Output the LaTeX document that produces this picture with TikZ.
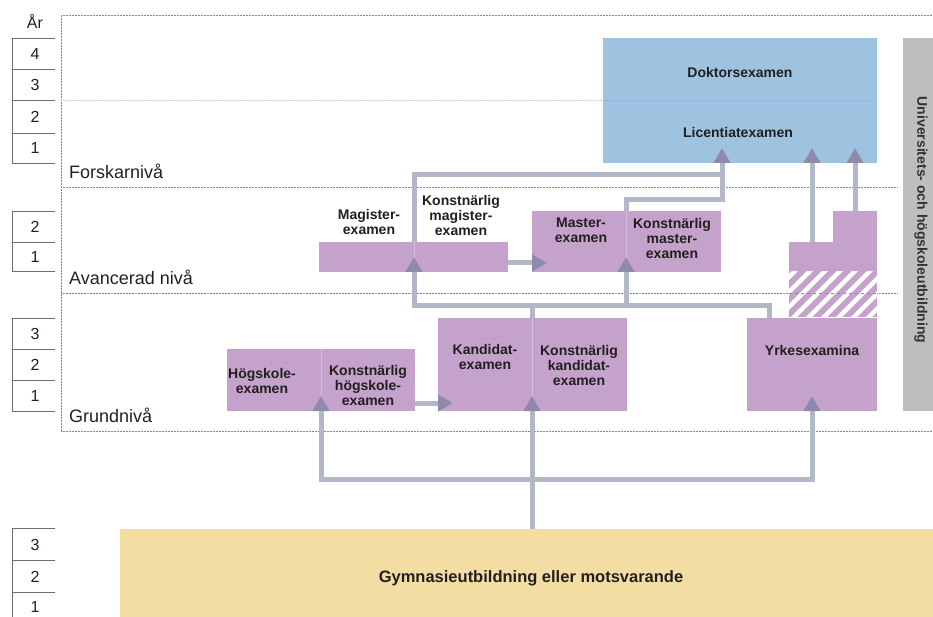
\documentclass[tikz,border=0pt]{standalone}
\usepackage{fontspec}
\setmainfont{Liberation Sans}
\usetikzlibrary{arrows.meta}
\definecolor{purp}{RGB}{196,162,203}
\definecolor{purpdiv}{RGB}{214,190,220}
\definecolor{purpdark}{RGB}{150,130,180}
\definecolor{bluebox}{RGB}{157,195,224}
\definecolor{bluedark}{RGB}{146,186,218}
\definecolor{gymc}{RGB}{243,221,163}
\definecolor{barc}{RGB}{190,190,190}
\definecolor{linec}{RGB}{178,184,200}
\definecolor{arrc}{RGB}{143,138,172}
\definecolor{txt}{RGB}{35,31,32}
\definecolor{dotc}{RGB}{125,135,155}
\definecolor{dotlight}{RGB}{205,205,210}
\definecolor{yearc}{RGB}{110,110,110}
\begin{document}
\begin{tikzpicture}[x=1pt,y=-1pt,
  box/.style={inner sep=0pt, outer sep=0pt, anchor=north west, fill=#1, draw=none},
  divider/.style={draw=purpdiv, line width=0.8pt},
  lbl/.style={font=\bfseries\fontsize{14}{15}\selectfont, align=center, text=txt, inner sep=0pt},
  lvl/.style={font=\fontsize{18}{20}\selectfont, text=txt, anchor=west, inner sep=0pt},
  yr/.style={font=\fontsize{16}{18}\selectfont, text=txt, inner sep=0pt},
  yearline/.style={draw=yearc, line width=0.8pt},
  dotline/.style={draw=dotc, line width=0.9pt, dash pattern=on 0.7pt off 0.8pt},
  conn/.style={draw=linec, line width=5pt},
  >={Triangle[width=16pt,length=15pt,color=arrc]}]
\useasboundingbox (0,0) rectangle (933,617);

% dotted level lines
\draw[dotline] (61,15) -- (933,15);
\draw[dotline] (61,15) -- (61,431);
\draw[draw=dotlight, line width=0.9pt, dash pattern=on 0.7pt off 0.8pt] (61,100) -- (877,100);
\draw[dotline] (61,187) -- (897,187);
\draw[dotline] (61,293) -- (897,293);
\draw[dotline] (61,431) -- (933,431);

% year columns
\draw[yearline] (12,38) -- (12,163);
\foreach \y in {38,69,100,133,163} \draw[yearline] (12,\y) -- (55,\y);
\draw[yearline] (12,211) -- (12,271);
\foreach \y in {211,242,271} \draw[yearline] (12,\y) -- (55,\y);
\draw[yearline] (12,318) -- (12,411);
\foreach \y in {318,349,380,411} \draw[yearline] (12,\y) -- (55,\y);
\draw[yearline] (12,528) -- (12,617);
\foreach \y in {528,560,592} \draw[yearline] (12,\y) -- (55,\y);
\node[yr] (yAr) at (35,22) {År};
\node[yr] (y4a) at (35,54) {4};
\node[yr] (y3a) at (35,85) {3};
\node[yr] (y2a) at (35,117) {2};
\node[yr] (y1a) at (35,148) {1};
\node[yr] (y2b) at (35,227) {2};
\node[yr] (y1b) at (35,257) {1};
\node[yr] (y3c) at (35,334) {3};
\node[yr] (y2c) at (35,365) {2};
\node[yr] (y1c) at (35,396) {1};
\node[yr] (y3d) at (35,545) {3};
\node[yr] (y2d) at (35,577) {2};
\node[yr] (y1d) at (35,607) {1};

% level labels
\node[lvl] (lForsk) at (69,171) {Forskarnivå};
\node[lvl] (lAvanc) at (69,277) {Avancerad nivå};
\node[lvl] (lGrund) at (69,415) {Grundnivå};

% boxes
\node[box=bluebox, minimum width=274pt, minimum height=125pt] (blue) at (603,38) {};
\draw[draw=bluedark, line width=0.8pt] (blue.west |- 0,100) -- (blue.east |- 0,100);
\node[box=barc, minimum width=30pt, minimum height=373pt] (bar) at (903,38) {};
\node[box=purp, minimum width=95pt, minimum height=30pt] (mag) at (319,242) {};
\node[box=purp, minimum width=94pt, minimum height=30pt] (kmag) at (414,242) {};
\node[box=purp, minimum width=94pt, minimum height=61pt] (mas) at (532,211) {};
\node[box=purp, minimum width=95pt, minimum height=61pt] (kmas) at (626,211) {};
\node[box=purp, minimum width=94pt, minimum height=62pt] (hs) at (227,349) {};
\node[box=purp, minimum width=94pt, minimum height=62pt] (khs) at (321,349) {};
\node[box=purp, minimum width=94pt, minimum height=93pt] (kand) at (438,318) {};
\node[box=purp, minimum width=95pt, minimum height=93pt] (kkand) at (532,318) {};
\node[box=purp, minimum width=130pt, minimum height=93pt] (yrk) at (747,318) {};
\node[box=purp, minimum width=88pt, minimum height=30pt] (ylow) at (789,242) {};
\node[box=purp, minimum width=88pt, minimum height=45pt] (yhat) at (789,272) {};
\node[box=purp, minimum width=44pt, minimum height=31pt] (yup) at (833,211) {};
\node[box=gymc, minimum width=813pt, minimum height=88pt] (gym) at (120,529) {};

% hatch
\begin{scope}
  \clip (yhat.north west) rectangle (yhat.south east);
  \foreach \i in {-4,...,7} \draw[white, line width=4.5pt] (789+\i*15,322) -- ++(55,-55);
\end{scope}
\draw[draw=purpdark, line width=1pt, dashed] (yhat.west |- 0,293) -- (yhat.east |- 0,293);

% dividers
\draw[divider] (mag.north east) -- (mag.south east);
\draw[divider] (mas.north east) -- (mas.south east);
\draw[divider] (hs.north east) -- (hs.south east);
\draw[divider] (kand.north east) -- (kand.south east);

% connectors
\draw[conn,->,shorten >=-15pt] (gym.north -| kand.south east) -- (kand.south east);
\draw[conn,<->,shorten <=-15pt,shorten >=-15pt] (hs.south east) -- ++(0,68) -| (yrk.south);
\draw[conn,->,shorten >=-15pt] ([yshift=8pt]khs.south east) -- ([yshift=8pt]kand.south west);
\draw[conn] (kand.north east) -- ++(0,-13);
\draw[conn,<-,shorten <=-15pt] (mag.south east) -- ++(0,33) coordinate (jA) -| ([xshift=22pt]yrk.north west);
\draw[conn,->,shorten >=-15pt] (mas.south east |- jA) -- (mas.south east);
\draw[conn,->,shorten >=-15pt] ([yshift=9pt]kmag.south east) -- ([yshift=9pt]mas.south west);
\draw[conn] (mas.north east) -- ++(0,-11) -| ([xshift=-18pt]blue.south);
\draw[conn,->,shorten >=-15pt] (mag.north east) -- ++(0,-67) -| ([xshift=-18pt]blue.south);
\draw[conn,->,shorten >=-15pt] (yrk.north |- ylow.north) -- (yrk.north |- blue.south);
\draw[conn,->,shorten >=-15pt] (yup.north) -- (yup.north |- blue.south);

% texts
\node[lbl] (tDok) at (740,72) {Doktorsexamen};
\node[lbl] (tLic) at (738,132) {Licentiatexamen};
\node[lbl] (tMag) at (369,222) {Magister-\\examen};
\node[lbl] (tKMag) at (461,215) {Konstnärlig\\magister-\\examen};
\node[lbl] (tMas) at (581,230) {Master-\\examen};
\node[lbl] (tKMas) at (672,238) {Konstnärlig\\master-\\examen};
\node[lbl] (tHs) at (262,381) {Högskole-\\examen};
\node[lbl] (tKHs) at (368,385) {Konstnärlig\\högskole-\\examen};
\node[lbl] (tKand) at (485,357) {Kandidat-\\examen};
\node[lbl] (tKKand) at (579,365) {Konstnärlig\\kandidat-\\examen};
\node[lbl] (tYrk) at (812,350) {Yrkesexamina};
\node[lbl, font=\bfseries\fontsize{16.5}{18}\selectfont] (tGym) at (531,578) {Gymnasieutbildning eller motsvarande};
\node[lbl, rotate=-90, text=black!80] (tBar) at (921,220) {Universitets- och högskoleutbildning};
\end{tikzpicture}
\end{document}
